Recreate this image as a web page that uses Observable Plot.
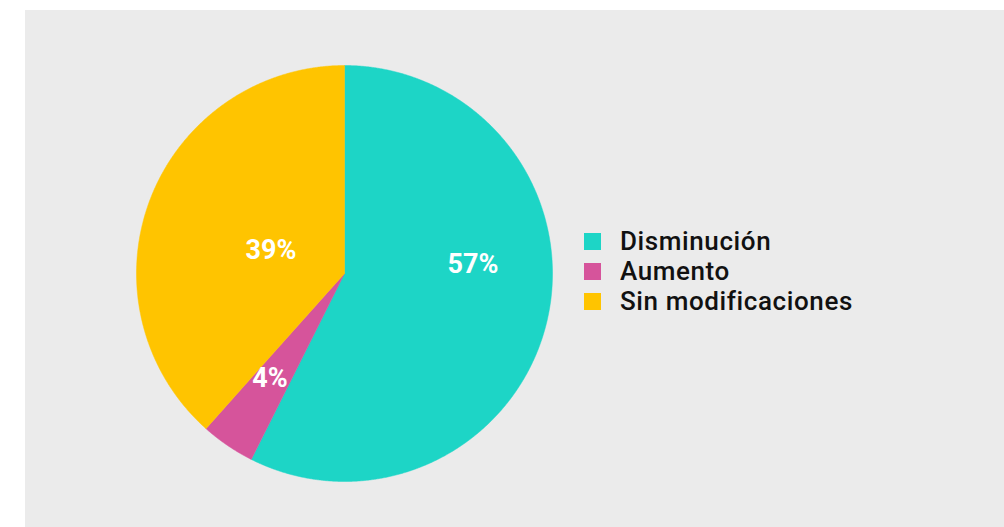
<!DOCTYPE html>
<html>
<head>
<meta charset="utf-8">
<script src="https://cdn.jsdelivr.net/npm/d3@7"></script>
<script src="https://cdn.jsdelivr.net/npm/@observablehq/plot@0.6"></script>
<style>
  html, body { margin: 0; padding: 0; background: #ffffff; }
  #box { position: absolute; left: 25px; top: 10px; width: 979px; height: 517px; background: #ebebeb; overflow: hidden; }
  #chart { position: absolute; left: 0; top: 0; }
  #legend { position: absolute; left: 559px; top: 216px; }
  .lg-swatch > svg { margin-right: 19px !important; }
  .lg-swatch { padding-bottom: 0 !important; line-height: 30px; }
</style>
</head>
<body>
<div id="box">
  <div id="chart"></div>
  <div id="legend"></div>
</div>
<script>
const categories = ["Disminución", "Aumento", "Sin modificaciones"];
const values = [57.4, 4.2, 38.4];
const labels = ["57%", "4%", "39%"];
const colors = ["#1dd5c6", "#d6549b", "#ffc400"];

const pie = d3.pie().sort(null).startAngle(0).endAngle(2 * Math.PI)(values);
const slices = pie.map((p, i) => ({
  name: categories[i], label: labels[i], start: p.startAngle, end: p.endAngle,
  mid: (p.startAngle + p.endAngle) / 2
}));

// polygon points of every slice, generated from its angles
const pts = [];
for (const s of slices) {
  pts.push({name: s.name, x: 0, y: 0});
  const n = Math.max(2, Math.ceil((s.end - s.start) / 0.005));
  for (let k = 0; k <= n; k++) {
    const a = s.start + (s.end - s.start) * k / n;
    pts.push({name: s.name, x: Math.sin(a), y: Math.cos(a)});
  }
  pts.push({name: s.name, x: 0, y: 0});
}

const lr = 0.62;
const labelMark = (i, dx, dy) => Plot.text([slices[i]], {
  x: d => lr * Math.sin(d.mid), y: d => lr * Math.cos(d.mid), text: "label",
  fill: "white", fontSize: 27, fontWeight: 700, dx, dy,
  fontFamily: "Roboto, sans-serif"
});

const cx = 319, cy = 263, r = 208;
const chart = Plot.plot({
  width: 979, height: 517,
  margin: 0,
  style: {background: "transparent"},
  x: {domain: [-1, 1], range: [cx - r, cx + r], axis: null},
  y: {domain: [-1, 1], range: [cy + r, cy - r], axis: null},
  color: {domain: categories, range: colors},
  marks: [
    Plot.line(pts, {x: "x", y: "y", z: "name", fill: "name", stroke: "name", strokeWidth: 0.5, curve: "linear"}),
    labelMark(0, 3, -39),
    labelMark(1, -2, -2),
    labelMark(2, 47, 23)
  ]
});
document.getElementById("chart").appendChild(chart);

const legend = Plot.legend({
  color: {domain: categories, range: colors},
  legend: "swatches", columns: 1, swatchSize: 17, className: "lg",
  style: {fontSize: "26px", letterSpacing: "0.6px", fontFamily: "Roboto, sans-serif", fontWeight: 500, color: "#111", background: "transparent"}
});
document.getElementById("legend").appendChild(legend);
</script>
</body>
</html>
